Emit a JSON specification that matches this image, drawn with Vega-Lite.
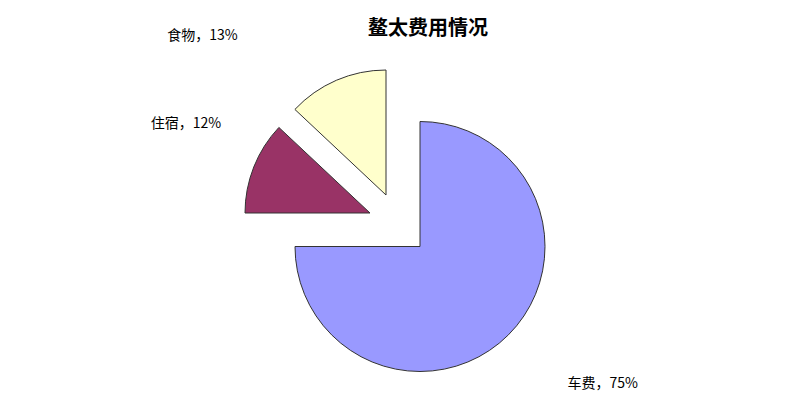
{
  "$schema": "https://vega.github.io/schema/vega-lite/v6.json",
  "width": 806,
  "height": 408,
  "autosize": {"type": "fit", "contains": "padding"},
  "padding": {"left": 34, "right": 0, "top": 19, "bottom": 5},
  "background": "white",
  "title": {
    "text": "鳌太费用情况",
    "font": "Noto Sans CJK SC",
    "fontSize": 20,
    "fontWeight": "bold",
    "color": "#000000",
    "dx": 8,
    "dy": 14,
    "offset": 4
  },
  "data": {
    "values": [
      {"idx": 1, "cat": "车费", "pct": 75, "label": "车费，75%"},
      {"idx": 2, "cat": "住宿", "pct": 12, "label": "住宿，12%"},
      {"idx": 3, "cat": "食物", "pct": 13, "label": "食物，13%"}
    ]
  },
  "encoding": {
    "theta": {"field": "pct", "type": "quantitative", "stack": true},
    "order": {"field": "idx", "type": "quantitative"}
  },
  "layer": [
    {
      "mark": {"type": "arc", "radius": 125, "stroke": "#333333", "strokeWidth": 1, "yOffset": 30.5},
      "encoding": {
        "color": {"field": "cat", "type": "nominal", "scale": {"domain": ["车费", "住宿", "食物"], "range": ["#9999FF", "#993366", "#FFFFCC"]}, "legend": null},
        "opacity": {"condition": {"test": "datum.cat === '车费'", "value": 1}, "value": 0}
      }
    },
    {
      "mark": {"type": "arc", "radius": 125, "stroke": "#333333", "strokeWidth": 1, "xOffset": -50, "yOffset": -3},
      "encoding": {
        "color": {"field": "cat", "type": "nominal", "scale": {"domain": ["车费", "住宿", "食物"], "range": ["#9999FF", "#993366", "#FFFFCC"]}, "legend": null},
        "opacity": {"condition": {"test": "datum.cat === '住宿'", "value": 1}, "value": 0}
      }
    },
    {
      "mark": {"type": "arc", "radius": 125, "stroke": "#333333", "strokeWidth": 1, "xOffset": -34, "yOffset": -21},
      "encoding": {
        "color": {"field": "cat", "type": "nominal", "scale": {"domain": ["车费", "住宿", "食物"], "range": ["#9999FF", "#993366", "#FFFFCC"]}, "legend": null},
        "opacity": {"condition": {"test": "datum.cat === '食物'", "value": 1}, "value": 0}
      }
    },
    {
      "mark": {"type": "text", "radius": 200, "align": "left", "baseline": "middle", "dx": 6, "dy": -4, "yOffset": 30.5, "font": "Noto Sans CJK SC", "fontSize": 14, "color": "#000000"},
      "encoding": {
        "text": {"field": "label"},
        "opacity": {"condition": {"test": "datum.cat === '车费'", "value": 1}, "value": 0}
      }
    },
    {
      "mark": {"type": "text", "radius": 160, "align": "right", "baseline": "middle", "dy": -30, "xOffset": -50, "yOffset": -3, "font": "Noto Sans CJK SC", "fontSize": 14, "color": "#000000"},
      "encoding": {
        "text": {"field": "label"},
        "opacity": {"condition": {"test": "datum.cat === '住宿'", "value": 1}, "value": 0}
      }
    },
    {
      "mark": {"type": "text", "radius": 172, "align": "right", "baseline": "middle", "dx": -80, "xOffset": -34, "yOffset": -22.5, "font": "Noto Sans CJK SC", "fontSize": 14, "color": "#000000"},
      "encoding": {
        "text": {"field": "label"},
        "opacity": {"condition": {"test": "datum.cat === '食物'", "value": 1}, "value": 0}
      }
    }
  ],
  "config": {"view": {"stroke": null}}
}
